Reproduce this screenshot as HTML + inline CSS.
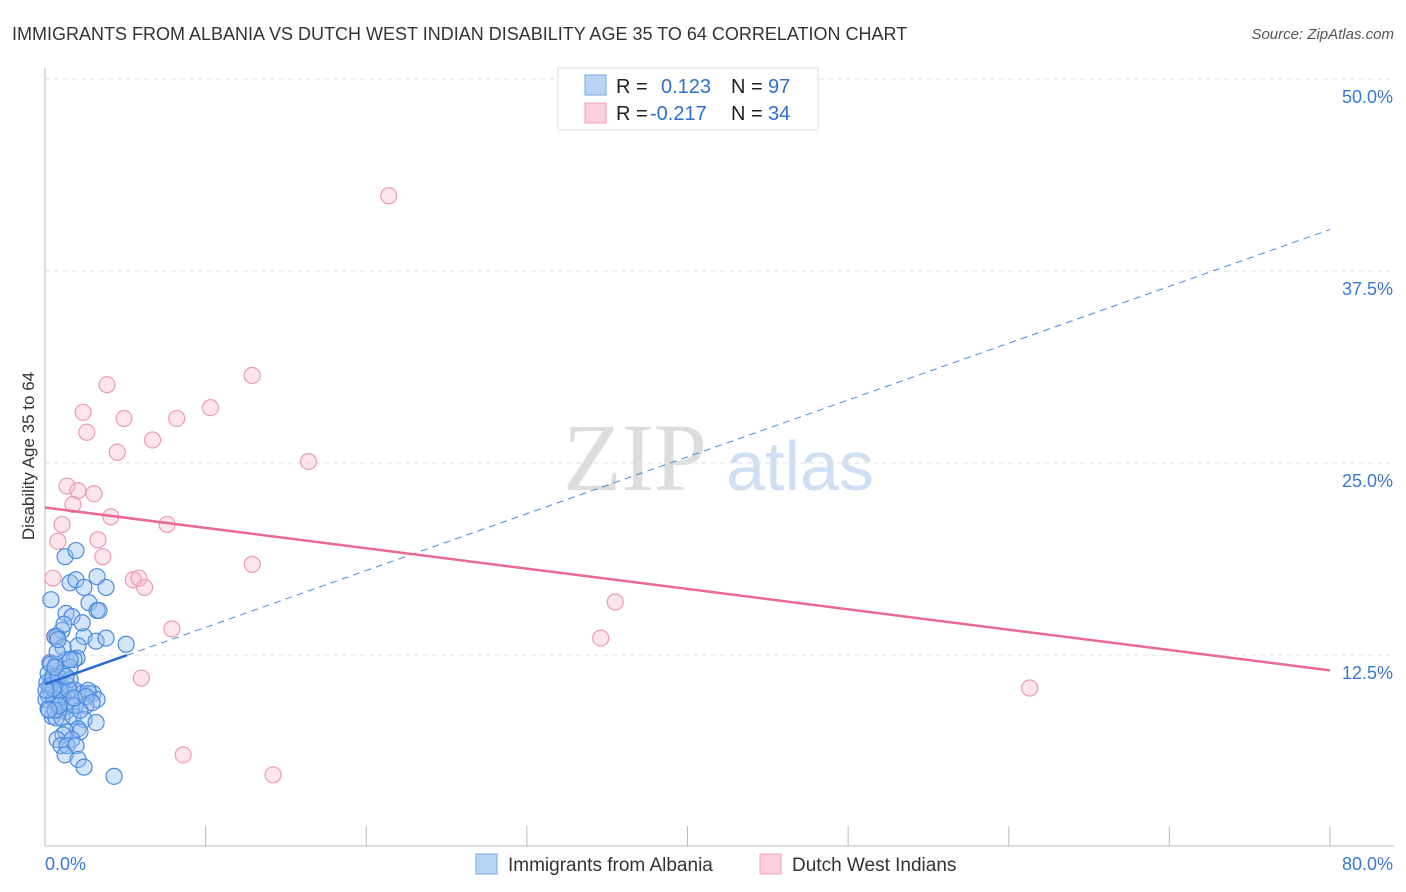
<!DOCTYPE html>
<html><head><meta charset="utf-8"><style>
body{margin:0;background:#fff;font-family:"Liberation Sans",sans-serif;}
svg{display:block}
</style></head><body>
<svg id="chart" width="1406" height="892">
<text x="12" y="40" font-size="18" fill="#333">IMMIGRANTS FROM ALBANIA VS DUTCH WEST INDIAN DISABILITY AGE 35 TO 64 CORRELATION CHART</text>
<text x="1394" y="39" font-size="15" fill="#555" font-style="italic" text-anchor="end">Source: ZipAtlas.com</text>
<text x="34" y="456" font-size="17" fill="#333" text-anchor="middle" transform="rotate(-90 34 456)">Disability Age 35 to 64</text>
<g><text x="635" y="490" font-size="96" fill="#ddd" font-family="Liberation Serif,serif" text-anchor="middle">ZIP</text><text x="800" y="490" font-size="70" fill="#cfe0f4" text-anchor="middle">atlas</text></g>
<g id="grid"></g><g id="marks"></g>
<g>
<rect x="558" y="68" width="260" height="62" fill="#fff" stroke="#ddd"/>
<rect x="585" y="75" width="21" height="20" fill="#b7d3f5" stroke="#7aa8e8"/>
<rect x="585" y="103" width="21" height="20" fill="#fcd0dc" stroke="#f0a0b8"/>
<text x="616" y="93" font-size="20" fill="#222">R = </text><text x="661" y="93" font-size="20" fill="#2f6fd0">0.123</text>
<text x="731" y="93" font-size="20" fill="#222">N = </text><text x="768" y="93" font-size="20" fill="#2f6fd0">97</text>
<text x="616" y="120" font-size="20" fill="#222">R = </text><text x="650" y="120" font-size="20" fill="#2f6fd0">-0.217</text>
<text x="731" y="120" font-size="20" fill="#222">N = </text><text x="768" y="120" font-size="20" fill="#2f6fd0">34</text>
</g>
<g>
<rect x="476" y="854" width="21" height="20" fill="#b7d3f5" stroke="#7aa8e8"/>
<text x="508" y="871" font-size="19" fill="#333">Immigrants from Albania</text>
<rect x="760" y="854" width="21" height="20" fill="#fcd0dc" stroke="#f0a0b8"/>
<text x="792" y="871" font-size="19" fill="#333">Dutch West Indians</text>
</g>
</svg>
<script>
const xTicks=[0,10,20,30,40,50,60,70,80];
const yTicks=[12.5,25,37.5,50];
const yTickLabels=["12.5%","25.0%","37.5%","50.0%"];
const xEndLabels=["0.0%","80.0%"];
const blueX=[0.37,1.25,1.93,1.56,1.93,2.43,3.24,3.8,1.31,1.68,2.74,3.24,3.36,1.06,0.62,0.75,2.43,3.18,3.8,5.05,2.06,1.31,1.99,1.81,0.31,0.69,1.56,1.06,0.19,0.44,0.93,1.43,0.62,1.18,1.87,2.31,2.74,2.99,3.24,0.31,0.75,0.19,0.56,1.06,1.31,1.68,2.55,0.93,1.31,0.44,0.69,1.06,1.74,2.43,3.18,2.06,1.31,2.18,1.12,0.75,1.68,1.0,1.37,1.93,1.25,2.06,2.43,4.3,0.12,0.31,0.5,0.81,1.56,0.06,0.19,0.62,0.93,0.37,1.12,1.56,0.75,2.31,1.18,0.81,2.68,1.87,1.5,0.5,0.06,1.31,0.62,2.18,1.81,0.87,2.55,2.93,0.25];
const blueY=[16.1,18.9,19.3,17.2,17.4,16.9,17.6,16.9,15.2,15.0,15.9,15.4,15.4,14.1,13.7,13.7,13.7,13.4,13.6,13.2,13.1,12.2,12.3,12.2,12.0,11.9,11.7,11.3,11.3,10.9,10.7,10.5,10.3,10.2,10.2,10.0,10.0,10.0,9.6,10.2,9.9,9.9,9.6,9.6,9.4,9.2,9.2,8.9,8.8,8.5,8.4,8.4,8.5,8.3,8.1,7.7,7.5,7.5,7.3,7.0,7.0,6.6,6.6,6.6,6.0,5.7,5.2,4.6,10.7,10.5,11.1,11.1,10.9,9.6,9.0,8.9,10.2,11.9,13.0,12.2,12.7,14.6,14.5,13.5,10.2,9.2,10.2,10.3,10.2,11.1,11.7,8.9,9.7,9.2,9.8,9.4,8.9];
const pinkX=[21.4,3.86,12.9,2.37,4.92,8.2,10.3,2.6,6.7,4.5,16.4,1.37,2.05,3.05,1.74,4.1,1.06,7.6,0.8,3.3,3.6,12.9,0.5,5.5,5.85,6.2,35.5,7.9,34.6,6.0,61.3,8.6,14.2,0.6,0.3];
const pinkY=[42.4,30.1,30.7,28.3,27.9,27.9,28.6,27.0,26.5,25.7,25.1,23.5,23.2,23.0,22.3,21.5,21.0,21.0,19.9,20.0,18.9,18.4,17.5,17.4,17.5,16.9,15.95,14.2,13.6,11.0,10.35,6.0,4.7,13.7,12.0];
const blueTrend=[10.6,0.37], pinkTrend=[22.1,-0.1325];
const X=v=>45+v*(1285/80), Y=v=>847-v*(192/12.5);
const NS="http://www.w3.org/2000/svg";
function mk(tag,attrs,parent){const e=document.createElementNS(NS,tag);for(const k in attrs)e.setAttribute(k,attrs[k]);parent.appendChild(e);return e;}
const grid=document.getElementById('grid'), marks=document.getElementById('marks');
let ax=mk('line',{x1:45,y1:68,x2:45,y2:846,stroke:'#bbb'},grid);


let bx=mk('line',{x1:45,y1:846,x2:1394,y2:846,stroke:'#bbb'},grid);


yTicks.forEach((t,i)=>{
 let g=mk('line',{x1:45,y1:Y(t),x2:1394,y2:Y(t),stroke:'#e2e2e2','stroke-dasharray':'5,4'},grid);
 
 
 let l=mk('text',{x:1393,y:Y(t)+24,'font-size':18,fill:'#3a78d6','text-anchor':'end'},grid);
 l.textContent=yTickLabels[i];
 
 
});
xTicks.forEach(t=>{
 let k=mk('line',{x1:X(t),y1:826,x2:X(t),y2:846,stroke:'#bbb'},grid);
 
 
});
let xl0=mk('text',{x:45,y:870,'font-size':18,fill:'#3a78d6'},grid);xl0.textContent=xEndLabels[0];


let xl1=mk('text',{x:1393,y:870,'font-size':18,fill:'#3a78d6','text-anchor':'end'},grid);xl1.textContent=xEndLabels[1];


pinkX.forEach((x,i)=>{
 let c=mk('circle',{cx:X(x),cy:Y(pinkY[i]),r:8,fill:'rgba(248,180,200,0.35)',stroke:'#ee9ab4','stroke-width':1.2},marks);
 
 
});
blueX.forEach((x,i)=>{
 let c=mk('circle',{cx:X(x),cy:Y(blueY[i]),r:8,fill:'rgba(150,190,240,0.4)',stroke:'#4a8ae0','stroke-width':1.2},marks);
 
 
});
const bf=x=>blueTrend[0]+blueTrend[1]*x, pf=x=>pinkTrend[0]+pinkTrend[1]*x;
let bd=mk('line',{x1:X(5.1),y1:Y(bf(5.1)),x2:X(80),y2:Y(bf(80)),stroke:'#4a8ae0','stroke-width':1,'stroke-dasharray':'7,5'},marks);


let bs=mk('line',{x1:X(0),y1:Y(bf(0)),x2:X(5.1),y2:Y(bf(5.1)),stroke:'#2a6ad6','stroke-width':2.5},marks);


let pl=mk('line',{x1:X(0),y1:Y(pf(0)),x2:X(80),y2:Y(pf(80)),stroke:'#e86a94','stroke-width':2.5},marks);


</script>
</body></html>
